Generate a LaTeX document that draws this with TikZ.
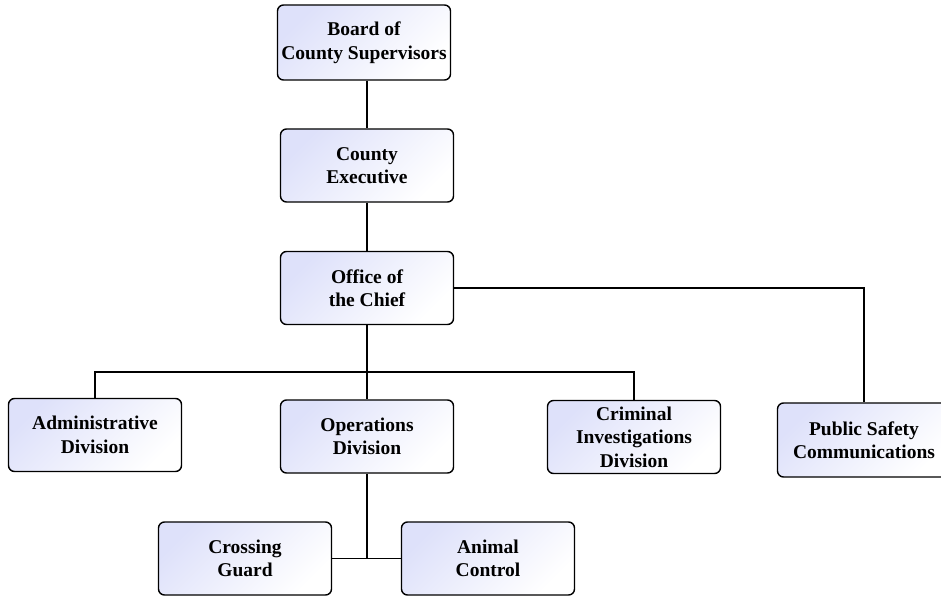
\documentclass[tikz,border=0pt]{standalone}
\usepackage{fontspec}
\setmainfont{Liberation Serif}
\definecolor{boxlav}{RGB}{222,225,250}
\tikzset{
  orgbox/.style={draw=black, line width=1.4pt, rounded corners=6pt,
    top color=boxlav, bottom color=white, shading angle=45,
    minimum width=173pt, minimum height=73pt, align=center,
    inner sep=2pt, font=\fontsize{19.5}{23.5}\selectfont\bfseries},
  link/.style={draw=black, line width=1.5pt}
}
\begin{document}
\begin{tikzpicture}[x=1pt,y=-1pt]
\useasboundingbox (0,0) rectangle (941,596);
\node[orgbox, minimum height=75pt] (board) at (364,42.5) {Board of\\County Supervisors};
\node[orgbox] (exec) at (367,165.5) {County\\Executive};
\node[orgbox] (chief) at (367,288) {Office of\\the Chief};
\node[orgbox] (admin) at (95,435) {Administrative\\Division};
\node[orgbox] (ops) at (367,436.5) {Operations\\Division};
\node[orgbox] (crim) at (634,437) {Criminal\\Investigations\\Division};
\node[orgbox, minimum height=74pt] (psc) at (864,440) {Public Safety\\Communications};
\node[orgbox] (cross) at (245,558.5) {Crossing\\Guard};
\node[orgbox] (animal) at (488,558.5) {Animal\\Control};
\coordinate (bus) at (367,372);
\draw[link] (board.south -| exec.north) -- (exec.north);
\draw[link] (exec) -- (chief);
\draw[link] (chief) -- (bus);
\draw[link] (admin.north) -- (admin.north |- bus) -| (crim.north);
\draw[link] (bus) -- (ops);
\draw[link] (chief.east) -| (psc.north);
\draw[link] (ops.south) -- (ops.south |- cross.east);
\draw[link] (cross.east) -- (animal.west);
\end{tikzpicture}
\end{document}
